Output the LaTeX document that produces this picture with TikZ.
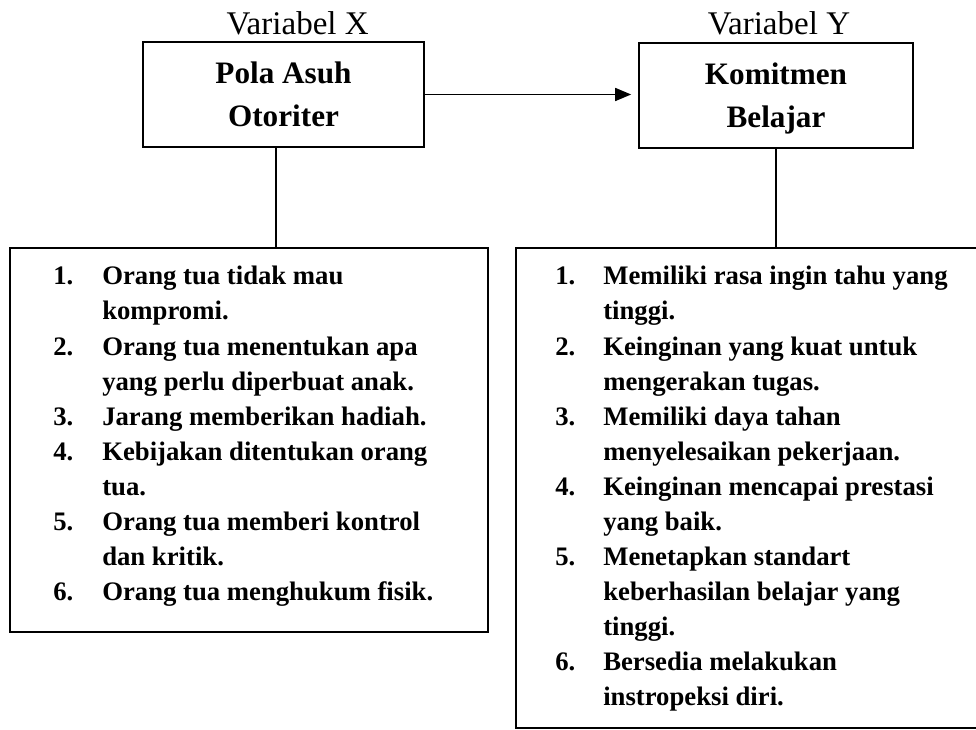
\documentclass[tikz,border=0pt]{standalone}
\usepackage{fontspec}
\setmainfont{Liberation Serif}
\usetikzlibrary{positioning, calc, arrows.meta}

\tikzset{
    vartitle/.style={anchor=base, inner sep=0pt, font=\fontsize{23.5}{28}\selectfont},
    varbox/.style={draw, line width=1.2pt, inner sep=0pt, align=center,
        font=\fontsize{22.2}{30.6}\selectfont\bfseries},
    listbox/.style={draw, line width=1.2pt, inner sep=0pt},
    itemlist/.style={anchor=base west, inner sep=0pt,
        font=\fontsize{19}{24.9}\selectfont\bfseries},
    link/.style={line width=1.2pt}
}

\begin{document}
\begin{tikzpicture}

    % Frame of the page (clips the right list box)
    \path[use as bounding box, clip] (0,0) rectangle (24.4,18.25);

    % Variable titles
    \node[vartitle] (titleX) at (7.44, 17.375) {Variabel X};
    \node[vartitle] (titleY) at (19.475, 17.375) {Variabel Y};

    % Variable boxes
    \node[varbox, minimum width=7.025cm, minimum height=2.625cm]
        (boxX) at (7.0875, 15.8875) {Pola Asuh\\Otoriter};
    \node[varbox, minimum width=6.85cm, minimum height=2.625cm]
        (boxY) at (19.4, 15.8625) {Komitmen\\Bela\smash{j}ar};

    % Indicator boxes
    \node[listbox, minimum width=11.95cm, minimum height=9.6cm]
        (listX) at (6.225, 7.25) {};
    \node[listbox, minimum width=12.5cm, minimum height=12.0cm]
        (listY) at (19.15, 6.05) {};

    % Indicators of X
    \node[itemlist] (itemsX) at (1.325, 11.125) {%
        \begin{tabular}[t]{@{}p{1.225cm}@{}l@{}}
        1. & Orang tua tidak mau\\
           & kompromi.\\
        2. & Orang tua menentukan apa\\
           & yang perlu diperbuat anak.\\
        3. & Jarang memberikan hadiah.\\
        4. & Kebijakan ditentukan orang\\
           & tua.\\
        5. & Orang tua memberi kontrol\\
           & dan kritik.\\
        6. & Orang tua menghukum fisik.
        \end{tabular}};

    % Indicators of Y
    \node[itemlist] (itemsY) at (13.875, 11.125) {%
        \begin{tabular}[t]{@{}p{1.2cm}@{}l@{}}
        1. & Memiliki rasa ingin tahu yang\\
           & tinggi.\\
        2. & Keinginan yang kuat untuk\\
           & mengerakan tugas.\\
        3. & Memiliki daya tahan\\
           & menyelesaikan pekerjaan.\\
        4. & Keinginan mencapai prestasi\\
           & yang baik.\\
        5. & Menetapkan standart\\
           & keberhasilan belajar yang\\
           & tinggi.\\
        6. & Bersedia melakukan\\
           & instropeksi diri.
        \end{tabular}};

    % Connectors
    \draw[link, -{Triangle[length=0.4cm, width=0.325cm]}, shorten >=0.175cm]
        (boxX.east) -- (boxX.east -| boxY.west);
    \draw[link] ($(boxX.south)+(-0.19,0)$) -- ($(boxX.south |- listX.north)+(-0.19,0)$);
    \draw[link] (boxY.south) -- (boxY.south |- listY.north);

\end{tikzpicture}
\end{document}
